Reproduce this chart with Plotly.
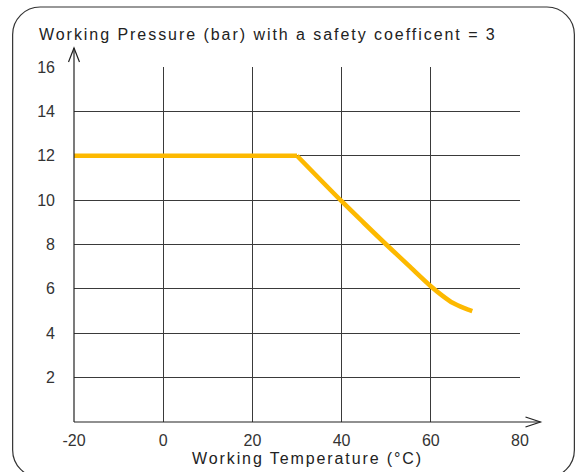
import plotly.graph_objects as go

# ---- data ----
temperature_c = [-20, 30, 40, 45, 50, 55, 60, 62.5, 65, 67.5, 69.3]
pressure_bar = [12, 12, 9.95, 8.97, 8.0, 7.06, 6.12, 5.71, 5.36, 5.13, 5.0]
x_ticks = [-20, 0, 20, 40, 60, 80]
y_ticks = [2, 4, 6, 8, 10, 12, 14, 16]
title_text = "Working Pressure (bar) with a safety coefficent = 3"
x_title_text = "Working Temperature (°C)"

W, H = 581, 472
L, R, T, B = 73.5, 520.5, 67, 422  # plot-area pixel bounds
PW, PH = R - L, B - T


def u(px):
    return (px - L) / PW


def v(py):
    return (B - py) / PH


def rounded_rect_path(x0, y0, x1, y1, r):
    k = 0.5523 * r
    pts = []
    pts.append(f"M {u(x0 + r)},{v(y0)}")
    pts.append(f"L {u(x1 - r)},{v(y0)}")
    pts.append(f"C {u(x1 - r + k)},{v(y0)} {u(x1)},{v(y0 + r - k)} {u(x1)},{v(y0 + r)}")
    pts.append(f"L {u(x1)},{v(y1 - r)}")
    pts.append(f"C {u(x1)},{v(y1 - r + k)} {u(x1 - r + k)},{v(y1)} {u(x1 - r)},{v(y1)}")
    pts.append(f"L {u(x0 + r)},{v(y1)}")
    pts.append(f"C {u(x0 + r - k)},{v(y1)} {u(x0)},{v(y1 - r + k)} {u(x0)},{v(y1 - r)}")
    pts.append(f"L {u(x0)},{v(y0 + r)}")
    pts.append(f"C {u(x0)},{v(y0 + r - k)} {u(x0 + r - k)},{v(y0)} {u(x0 + r)},{v(y0)}")
    pts.append("Z")
    return " ".join(pts)


fig = go.Figure()
line_style = dict(color="#FDB900", width=4.6)
# flat part (up to the knee)
fig.add_trace(go.Scatter(
    x=temperature_c[:2], y=pressure_bar[:2], mode="lines",
    line=dict(**line_style, shape="linear"),
    hoverinfo="skip", showlegend=False,
))
# declining part (from the knee on)
fig.add_trace(go.Scatter(
    x=temperature_c[1:], y=pressure_bar[1:], mode="lines",
    line=dict(**line_style, shape="spline", smoothing=0.8),
    hoverinfo="skip", showlegend=False,
))

grid_col = "#3a3a3a"
font_fam = "Liberation Sans, Arial, Helvetica, sans-serif"

fig.update_layout(
    width=W, height=H,
    margin=dict(l=L, r=W - R, t=T, b=H - B, pad=0),
    paper_bgcolor="white", plot_bgcolor="white",
    font=dict(family=font_fam, size=16, color="#333333"),
    xaxis=dict(
        range=[-20, 80], tickvals=x_ticks, ticktext=[str(t) for t in x_ticks],
        showgrid=True, gridcolor=grid_col, gridwidth=1,
        showline=False, zeroline=False, ticks="", ticklabelstandoff=7,
        fixedrange=True,
    ),
    yaxis=dict(
        range=[0, 16], tickvals=y_ticks, ticktext=[str(t) for t in y_ticks],
        showgrid=True, gridcolor=grid_col, gridwidth=1,
        showline=False, zeroline=False, ticks="", ticklabelstandoff=18,
        fixedrange=True,
    ),
)

axis_col = "#222222"
shapes = [
    # rounded frame
    dict(type="path", xref="paper", yref="paper",
         path=rounded_rect_path(12, 7, 575, 477.5, 27.5),
         line=dict(color="#333333", width=1.2), fillcolor="rgba(0,0,0,0)", layer="below"),
    # y axis with arrow
    dict(type="line", xref="paper", yref="paper", x0=u(73.5), y0=v(422), x1=u(73.5), y1=v(48),
         line=dict(color=axis_col, width=1.2)),
    dict(type="path", xref="paper", yref="paper",
         path=f"M {u(68)},{v(62)} L {u(73.5)},{v(48)} L {u(79)},{v(62)}",
         line=dict(color=axis_col, width=1.2)),
    # x axis with arrow
    dict(type="line", xref="paper", yref="paper", x0=u(73.5), y0=v(422), x1=u(541), y1=v(422),
         line=dict(color=axis_col, width=1.2)),
    dict(type="path", xref="paper", yref="paper",
         path=f"M {u(526)},{v(417)} L {u(541)},{v(422)} L {u(526)},{v(427)}",
         line=dict(color=axis_col, width=1.2)),
]
fig.update_layout(shapes=shapes)

fig.add_annotation(
    x=u(36), y=v(35), xref="paper", yref="paper", xanchor="left", yanchor="middle",
    text=f'<span style="letter-spacing:1.95px">{title_text}</span>', showarrow=False,
    font=dict(family=font_fam, size=16, color="#222222"),
)
fig.add_annotation(
    x=u(308), y=v(458), xref="paper", yref="paper", xanchor="center", yanchor="middle",
    text=f'<span style="letter-spacing:1.9px">{x_title_text}</span>', showarrow=False,
    font=dict(family=font_fam, size=16, color="#222222"),
)

fig.write_html(
    "out.html", include_plotlyjs=True, config=dict(displayModeBar=False),
    post_script="document.body.style.margin='0';document.body.style.overflow='hidden';",
)
